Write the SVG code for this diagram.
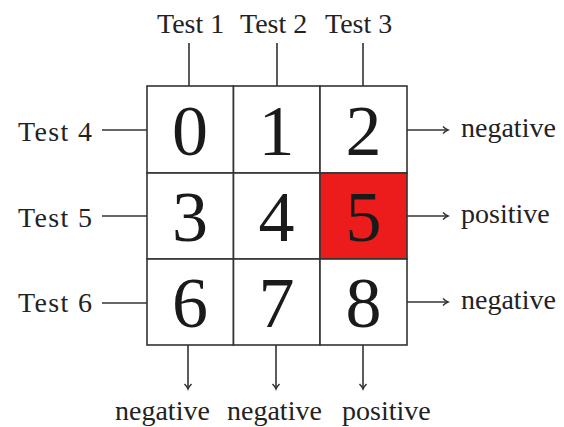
<svg xmlns="http://www.w3.org/2000/svg" width="564" height="427" viewBox="0 0 564 427">
<style>
.t{font-family:"Liberation Serif","Times New Roman",serif;font-size:28px;fill:#222}
.d{font-family:"Liberation Serif","Times New Roman",serif;font-size:72px;fill:#1a1a1a;text-anchor:middle}
.ln{stroke:#333;stroke-width:1.6;fill:none}
.cell{stroke:#333;stroke-width:1.6;fill:#fff}
</style>
<defs>
<marker id="ah" markerWidth="10" markerHeight="10" refX="7" refY="5" orient="auto" markerUnits="userSpaceOnUse">
<path d="M2,1.5 Q4.5,4 7,5 Q4.5,6 2,8.5" stroke="#333" stroke-width="1.5" fill="none"/>
</marker>
</defs>
<rect width="564" height="427" fill="#fff"/>
<g id="grid">
<g id="c0"><rect class="cell" x="147" y="86" width="86.5" height="87"/><text class="d" x="190" y="155">0</text></g>
<g id="c1"><rect class="cell" x="233.5" y="86" width="86.5" height="87"/><text class="d" x="276.5" y="155">1</text></g>
<g id="c2"><rect class="cell" x="320" y="86" width="87" height="87"/><text class="d" x="363.5" y="155">2</text></g>
<g id="c3"><rect class="cell" x="147" y="173" width="86.5" height="86"/><text class="d" x="190" y="241">3</text></g>
<g id="c4"><rect class="cell" x="233.5" y="173" width="86.5" height="86"/><text class="d" x="276.5" y="241">4</text></g>
<g id="c5"><rect class="cell" x="320" y="173" width="87" height="86" style="fill:#ec1c1c"/><text class="d" x="363.5" y="241">5</text></g>
<g id="c6"><rect class="cell" x="147" y="259" width="86.5" height="86"/><text class="d" x="190" y="327">6</text></g>
<g id="c7"><rect class="cell" x="233.5" y="259" width="86.5" height="86"/><text class="d" x="276.5" y="327">7</text></g>
<g id="c8"><rect class="cell" x="320" y="259" width="87" height="86"/><text class="d" x="363.5" y="327">8</text></g>
</g>
<g id="labels">
<text class="t" x="157" y="33">Test 1</text>
<text class="t" x="240" y="33">Test 2</text>
<text class="t" x="325" y="33">Test 3</text>
<text class="t" x="18" y="141" textLength="74">Test 4</text>
<text class="t" x="18" y="227" textLength="74">Test 5</text>
<text class="t" x="18" y="312" textLength="74">Test 6</text>
<text class="t" x="461" y="137">negative</text>
<text class="t" x="461" y="223">positive</text>
<text class="t" x="461" y="309">negative</text>
<text class="t" x="115" y="420">negative</text>
<text class="t" x="227" y="420">negative</text>
<text class="t" x="342" y="420">positive</text>
</g>
<g id="connectors">
<line class="ln" x1="189" y1="43" x2="189" y2="86"/>
<line class="ln" x1="277" y1="43" x2="277" y2="86"/>
<line class="ln" x1="363" y1="43" x2="363" y2="86"/>
<line class="ln" x1="102" y1="130" x2="147" y2="130"/>
<line class="ln" x1="102" y1="216" x2="147" y2="216"/>
<line class="ln" x1="102" y1="303" x2="147" y2="303"/>
<line class="ln" x1="407" y1="130" x2="448" y2="130" marker-end="url(#ah)"/>
<line class="ln" x1="407" y1="216" x2="448" y2="216" marker-end="url(#ah)"/>
<line class="ln" x1="407" y1="302" x2="448" y2="302" marker-end="url(#ah)"/>
<line class="ln" x1="188" y1="345" x2="188" y2="389" marker-end="url(#ah)"/>
<line class="ln" x1="276" y1="345" x2="276" y2="389" marker-end="url(#ah)"/>
<line class="ln" x1="363" y1="345" x2="363" y2="389" marker-end="url(#ah)"/>
</g>
</svg>
